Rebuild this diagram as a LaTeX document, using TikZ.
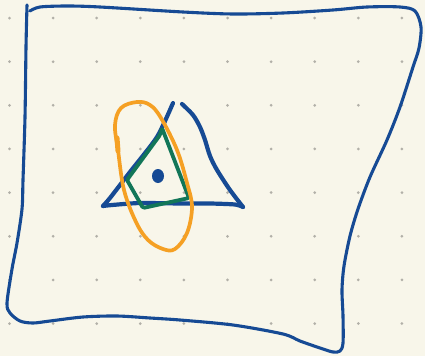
\documentclass[tikz,border=0pt]{standalone}
\definecolor{bg}{RGB}{248,246,234}
\definecolor{dotc}{RGB}{178,176,168}
\definecolor{inkblue}{RGB}{22,74,148}
\definecolor{inkgreen}{RGB}{18,118,88}
\definecolor{inkorange}{RGB}{245,160,36}
\tikzset{
  outerline/.style={draw=inkblue, line width=3.1pt},
  triline/.style={draw=inkblue, line width=4.2pt},
  greenline/.style={draw=inkgreen, line width=3.8pt},
  orangeline/.style={draw=inkorange, line width=3.7pt},
}
\begin{document}
\begin{tikzpicture}[x=1pt,y=-1pt, line cap=round, line join=round]
\fill[bg] (0,0) rectangle (425,356);
\useasboundingbox (0,0) rectangle (425,356);
\foreach \i in {0,...,9} \foreach \j in {0,...,7}
  \fill[dotc] ({9.5+43.6*\i},{18+43.65*\j}) circle (1.5);
% outer frame
\draw[outerline] plot[smooth, tension=0.5] coordinates {
 (30,11) (40,7) (67,6) (100,7) (183,12) (233,14) (283,13) (333,10) (367,7) (400,7)
 (415,11) (421,27) (419,48) (413,67) (400,107) (387,140) (370,177) (358,209)
 (350,236) (344,266) (342,290) (343,316) (343,343) (340,351) (333,352) (320,348)
 (300,341) (283,334) (233,325) (180,320) (150,318) (117,316) (83,317) (50,321)
 (33,323) (20,321) (10,313) (7,303) (12,269) (17,243) (22,209) (23,180) (25,117)
 (26,47) (27,5)};
% blue triangle
\draw[triline] plot[smooth, tension=0.5] coordinates {
 (182,104) (193,115) (200,127) (205,140) (210,156) (217,170) (230,190) (243,207)};
\draw[triline] plot[smooth, tension=0.4] coordinates {
 (243,207) (235,204.5) (210,203.5) (180,203.5) (140,203) (112,205) (103,206)};
\draw[triline] plot[smooth, tension=0.4] coordinates {
 (103,206) (110,198) (130,172) (157,137) (173,103)};
% green quadrilateral
\draw[greenline, rounded corners=1.5pt] (160,135) -- (162,128) -- (189,198) -- (143,208) -- (127,180) -- cycle;
% dot
\fill[inkblue] (158,176) ellipse (6 and 7);
% orange loop
\draw[orangeline] plot[smooth cycle, tension=0.6] coordinates {
 (137,102) (150,105) (161,118) (177,150) (187,183) (192,207) (187,233) (175,249)
 (163,249) (148,240) (136,222) (124,190) (118,150) (115,125) (121,108)};
\draw[orangeline, line width=5pt] (117,138) -- (118,151);
\end{tikzpicture}
\end{document}
